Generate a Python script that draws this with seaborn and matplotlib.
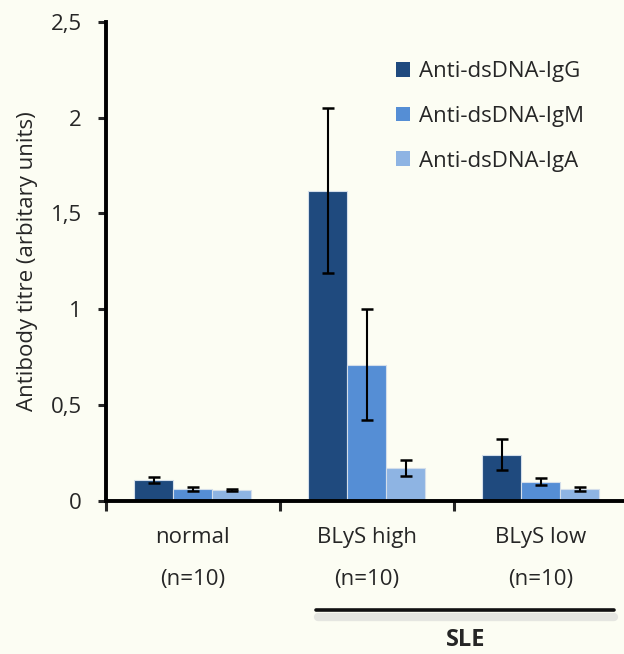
import numpy as np
import pandas as pd
import matplotlib
matplotlib.use("Agg")
import matplotlib.pyplot as plt
from matplotlib.lines import Line2D
import seaborn as sns

# veriler
groups = ["normal", "BLyS high", "BLyS low"]
group_labels = ["normal\n(n=10)", "BLyS high\n(n=10)", "BLyS low\n(n=10)"]
series = ["Anti-dsDNA-IgG", "Anti-dsDNA-IgM", "Anti-dsDNA-IgA"]
igg = [0.11, 1.62, 0.24]
igm = [0.06, 0.71, 0.10]
iga = [0.055, 0.17, 0.06]
igg_err = [0.015, 0.43, 0.08]
igm_err = [0.01, 0.29, 0.018]
iga_err = [0.006, 0.04, 0.01]
yticks = [0, 0.5, 1, 1.5, 2, 2.5]
ytick_labels = ["0", "0,5", "1", "1,5", "2", "2,5"]

colors = ["#1f4a7e", "#558ed5", "#8eb4e3"]
bg = "#fcfdf3"
fs = 16

df = pd.DataFrame({
    "group": groups * 3,
    "series": [s for s in series for _ in groups],
    "value": igg + igm + iga,
})
errs = [igg_err, igm_err, iga_err]

sns.set_style("ticks")
plt.rcParams["font.family"] = ["Open Sans", "DejaVu Sans"]

fig = plt.figure(figsize=(6.24, 6.54), dpi=100, facecolor=bg)
ax = fig.add_axes([105.6 / 624, 153.3 / 654, 522 / 624, 478.7 / 654])
ax.set_facecolor(bg)

sns.barplot(data=df, x="group", y="value", hue="series", order=groups,
            hue_order=series, palette=colors, saturation=1, width=0.672,
            errorbar=None, edgecolor="#d4deea", linewidth=0.8, ax=ax)

# hata çubukları
for cont, err in zip(ax.containers, errs):
    xs = [b.get_x() + b.get_width() / 2 for b in cont]
    hs = [b.get_height() for b in cont]
    ax.errorbar(xs, hs, yerr=err, fmt="none", ecolor="black", elinewidth=1.5,
                capsize=4.3, capthick=1.8, zorder=5)

ax.set_xlim(-0.5, 2.5)
ax.set_ylim(0, 2.5)
ax.set_yticks(yticks)
ax.set_yticklabels(ytick_labels)
ax.set_xticks([0, 1, 2])
ax.set_xticklabels(group_labels, linespacing=2.3)
ax.set_xticks([-0.5, 0.5, 1.5], minor=True)
ax.tick_params(axis="x", which="major", length=0, pad=19, labelsize=fs)
ax.tick_params(axis="x", which="minor", length=7, width=2.2, direction="out")
ax.tick_params(axis="y", length=6, width=2.2, labelsize=fs, pad=11)
ax.set_xlabel("")
ax.set_ylabel("Antibody titre (arbitary units)", fontsize=fs)
ax.yaxis.set_label_coords(-0.13, 0.5)

for s in ["top", "right"]:
    ax.spines[s].set_visible(False)
for s in ["left", "bottom"]:
    ax.spines[s].set_linewidth(2.8)
    ax.spines[s].set_color("black")
ax.spines["bottom"].set_capstyle("projecting")

leg = ax.legend(loc="upper left", bbox_to_anchor=(376 / 624, 1 - 41 / 654),
                bbox_transform=fig.transFigure, frameon=False, fontsize=fs,
                handlelength=0.65, handleheight=0.65, handletextpad=0.38,
                labelspacing=1.07)
for h in leg.legend_handles:
    h.set_edgecolor("none")

# SLE çizgisi
fig.add_artist(Line2D([318 / 624, 614 / 624], [1 - 617 / 654, 1 - 617 / 654],
                      color="#d0d0d0", lw=6, alpha=0.5))
fig.add_artist(Line2D([316 / 624, 614 / 624], [1 - 610 / 654, 1 - 610 / 654],
                      color="#111111", lw=2.6))
fig.text(466 / 624, 1 - 640 / 654, "SLE", ha="center", va="center",
         fontsize=17, fontweight="bold")

fig.savefig("out.png", dpi=100, facecolor=bg)
